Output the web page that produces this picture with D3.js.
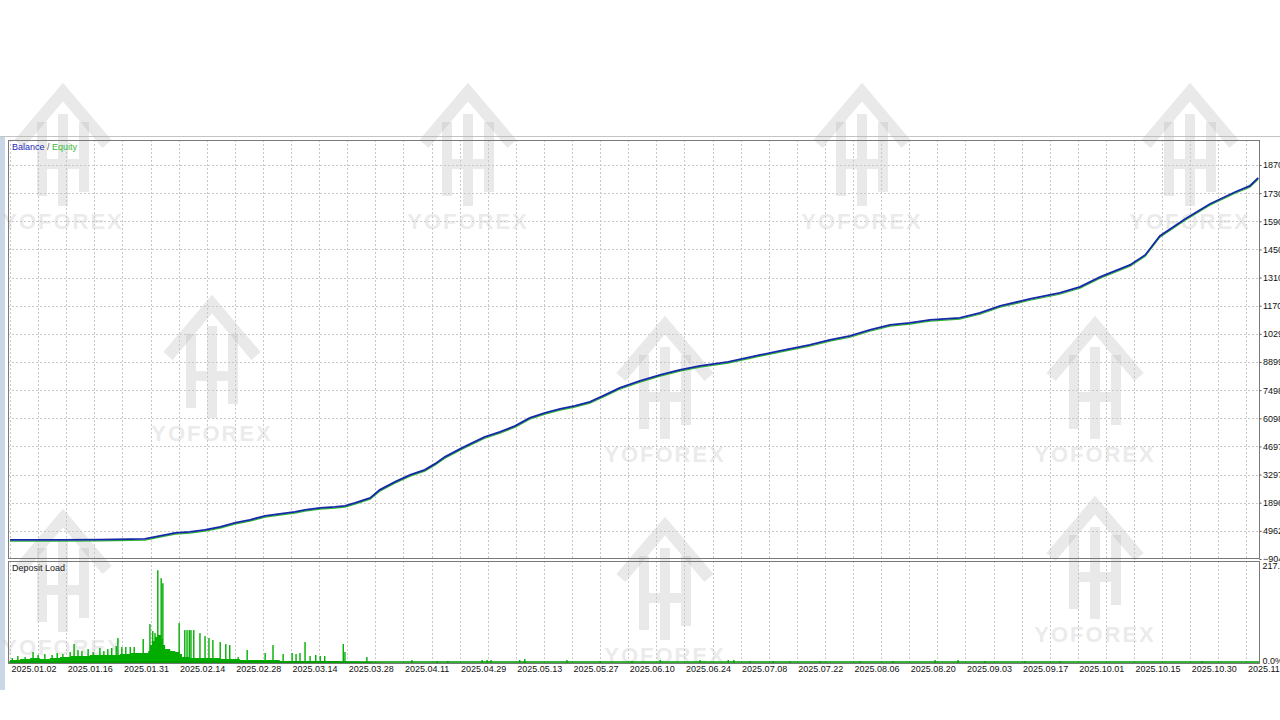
<!DOCTYPE html>
<html><head><meta charset="utf-8">
<script src="https://cdn.jsdelivr.net/npm/d3@7"></script>
<style>html,body{margin:0;padding:0;background:#fff;overflow:hidden}svg{display:block}</style>
</head><body>
<svg id="c" width="1280" height="720"></svg>
<script>
// ---- data ----
const xLabels = ["2025.01.02","2025.01.16","2025.01.31","2025.02.14","2025.02.28","2025.03.14","2025.03.28","2025.04.11","2025.04.29","2025.05.13","2025.05.27","2025.06.10","2025.06.24","2025.07.08","2025.07.22","2025.08.06","2025.08.20","2025.09.03","2025.09.17","2025.10.01","2025.10.15","2025.10.30","2025.11.13"];
const yTicks = [-9043, 4962, 18967, 32972, 46977, 60982, 74987, 88992, 102997, 117002, 131007, 145012, 159017, 173022, 187027];
const loadTicks = [0, 217.59];
// balance: [position in axis-label units, value]
const balance = [[0,484],[0.89,484],[1.60,600],[2.40,982],[2.67,2474],[2.94,3967],[3.20,4465],[3.47,5460],[3.74,6952],[4.00,8942],[4.27,10435],[4.54,12425],[4.80,13420],[5.07,14415],[5.25,15410],[5.52,16405],[5.78,16902],[5.96,17400],[6.14,18892],[6.41,21380],[6.58,25360],[6.85,29340],[7.12,32822],[7.38,35310],[7.56,38295],[7.74,41777],[8.01,45757],[8.19,48245],[8.45,51727],[8.72,54215],[8.99,57200],[9.25,61180],[9.52,63667],[9.79,65657],[10.05,67150],[10.32,69140],[10.59,72622],[10.85,76105],[11.21,79587],[11.57,82572],[11.92,85060],[12.28,87052],[12.78,89040],[13.35,92522],[13.70,94512],[14.23,97497],[14.59,99985],[14.95,101972],[15.30,104960],[15.66,107447],[16.01,108442],[16.37,109935],[16.90,110930],[17.26,113417],[17.62,116900],[18.15,120382],[18.68,123367],[19.04,126352],[19.40,131327],[19.93,137297],[20.20,142272],[20.46,151725],[20.91,160182],[21.35,167645],[21.80,173615],[22.06,176600],[22.21,180582]];
// deposit load base level: [position, percent]
const loadBase = [[0,6.5],[0.18,8.7],[0.36,10.9],[0.53,8.7],[0.71,10.9],[0.89,13.0],[1.07,15.2],[1.25,15.2],[1.42,17.4],[1.60,17.4],[1.78,17.4],[1.96,19.5],[2.14,21.7],[2.31,21.7],[2.46,26.0],[2.49,39.1],[2.53,47.7],[2.58,56.4],[2.63,60.8],[2.69,52.1],[2.72,39.1],[2.76,30.4],[2.85,26.0],[2.94,23.9],[3.02,19.5],[3.06,13.0],[3.20,10.9],[3.38,10.9],[3.56,10.9],[3.74,8.7],[3.91,8.7],[4.09,6.5],[4.45,6.5],[4.80,4.3],[5.16,4.3],[5.52,4.3],[5.87,3.3],[6.23,2.2],[6.44,1.1],[6.58,0.8],[22.21,0.8]];
// deposit load peaks: [position, percent]
const loadPeaks = [[0.04,10.9],[0.14,15.2],[0.27,13.0],[0.41,23.9],[0.50,17.4],[0.62,19.5],[0.75,17.4],[0.84,21.7],[0.94,19.5],[1.07,23.9],[1.14,41.2],[1.21,28.2],[1.28,26.0],[1.39,30.4],[1.48,23.9],[1.60,32.6],[1.67,26.0],[1.74,30.4],[1.81,32.6],[1.89,36.9],[1.92,54.3],[1.99,34.7],[2.06,34.7],[2.14,34.7],[2.21,34.7],[2.37,52.1],[2.49,84.6],[2.54,69.4],[2.58,65.1],[2.63,201.8],[2.69,184.5],[2.72,173.6],[3.01,86.8],[3.11,71.6],[3.15,71.6],[3.19,71.6],[3.22,71.6],[3.27,71.6],[3.38,65.1],[3.47,58.6],[3.54,54.3],[3.61,49.9],[3.74,45.6],[3.84,41.2],[3.91,39.1],[4.06,13.0],[4.22,28.2],[4.54,21.7],[4.68,39.1],[4.86,19.5],[5.02,21.7],[5.09,19.5],[5.16,21.7],[5.25,45.6],[5.34,15.2],[5.44,17.4],[5.52,15.2],[5.60,15.2],[5.93,41.2],[5.96,23.9],[6.35,13.0],[7.15,6.5],[7.60,4.3],[7.79,4.3],[8.40,6.5],[8.49,6.5],[8.56,6.5],[9.07,6.5],[9.16,8.7],[9.91,6.5],[10.50,4.3],[11.07,4.3],[11.57,6.5],[12.28,6.5],[12.78,6.5],[12.88,6.5],[13.17,4.3],[13.58,4.3],[13.88,4.3],[14.41,4.3],[15.12,4.3],[15.71,4.3],[16.46,6.5],[16.87,6.5],[17.35,4.3],[18.06,4.3],[18.68,4.3],[21.21,4.3]];
// watermark placements: [center x, top y]
const marks = [[63,88],[468,88],[862,88],[1190,88],[212,300],[665,321],[1095,321],[63,514],[665,522],[1095,501]];

// ---- layout ----
const L = 8, R = 1260, mainTop = 140, mainBot = 558, subTop = 561, subBot = 663;
const svg = d3.select("#c");
const FONT = "Liberation Sans, Arial, sans-serif";

const x = d3.scaleLinear().domain([0, 22]).range([10, 1246.4]);
const y = d3.scaleLinear().domain([-9043, 187027]).range([559, 165]);
const yl = d3.scaleLinear().domain([0, 217.59]).range([663, 563]);

// frame pieces
svg.append("rect").attr("x",0).attr("y",0).attr("width",1280).attr("height",720).attr("fill","#fff");
svg.append("line").attr("x1",0).attr("x2",1280).attr("y1",136.5).attr("y2",136.5).attr("stroke","#c4c4c4");
svg.append("rect").attr("x",0).attr("y",137).attr("width",5).attr("height",553).attr("fill","#c9d7e6");

// watermarks
const wm = svg.append("g").attr("fill","none");
marks.forEach(([cx, top]) => {
  const g = wm.append("g").attr("transform", `translate(${cx},${top})`);
  const c = "rgba(175,175,175,0.27)";
  g.append("path").attr("d","M-44,56 L0,4 L44,56").attr("stroke",c).attr("stroke-width",12).attr("stroke-linejoin","miter");
  g.append("path").attr("d","M-21,34 L-21,108 M21,34 L21,104 M-21,76 L21,76 M0,26 L0,118").attr("stroke",c).attr("stroke-width",10);
  g.append("text").attr("x",0).attr("y",141).attr("text-anchor","middle").attr("font-family",FONT).attr("font-weight","bold")
    .attr("font-size",22).attr("letter-spacing",2).attr("fill","rgba(175,175,175,0.27)").text("YOFOREX");
});

// grid
const grid = svg.append("g").attr("stroke","#c8c8c8").attr("stroke-dasharray","2,2").attr("stroke-width",1);
d3.range(0, 22.01, 0.5).forEach(v => {
  const xx = Math.round(x(v)) + 0.5;
  grid.append("line").attr("x1",xx).attr("x2",xx).attr("y1",mainTop).attr("y2",mainBot);
  grid.append("line").attr("x1",xx).attr("x2",xx).attr("y1",subTop).attr("y2",subBot);
});
yTicks.slice(1).forEach(v => {
  const yy = Math.round(y(v)) + 0.5;
  grid.append("line").attr("x1",L).attr("x2",R).attr("y1",yy).attr("y2",yy);
});

// clip
svg.append("clipPath").attr("id","cm").append("rect").attr("x",L).attr("y",mainTop).attr("width",R-L).attr("height",mainBot-mainTop);
svg.append("clipPath").attr("id","cs").append("rect").attr("x",L).attr("y",subTop).attr("width",R-L).attr("height",subBot-subTop);

// balance / equity
const line = d3.line().x(d => x(d[0])).y(d => y(d[1]));
const lg = svg.append("g").attr("clip-path","url(#cm)");
lg.append("path").datum(balance).attr("d",line).attr("fill","none").attr("stroke","#2eb82e").attr("stroke-width",1.2).attr("transform","translate(0,1.3)");
lg.append("path").datum(balance).attr("d",line).attr("fill","none").attr("stroke","#1428a8").attr("stroke-width",1.8);

// deposit load
const sg = svg.append("g").attr("clip-path","url(#cs)");
const area = d3.area().x(d => x(d[0])).y0(yl(0)).y1(d => yl(d[1])).curve(d3.curveStepAfter);
sg.append("path").datum(loadBase).attr("d",area).attr("fill","#00ad00");
sg.selectAll("rect.pk").data(loadPeaks).join("rect").attr("class","pk")
  .attr("x", d => x(d[0]) - 0.7).attr("width",1.4)
  .attr("y", d => yl(d[1])).attr("height", d => yl(0) - yl(d[1])).attr("fill","#00ad00");
sg.append("line").attr("x1",L).attr("x2",R).attr("y1",yl(0)-1).attr("y2",yl(0)-1).attr("stroke","#009a00").attr("stroke-width",1.5);

// panel borders
svg.append("rect").attr("x",L+0.5).attr("y",mainTop+0.5).attr("width",R-L-1).attr("height",mainBot-mainTop).attr("fill","none").attr("stroke","#7a7a7a");
svg.append("rect").attr("x",L+0.5).attr("y",subTop+0.5).attr("width",R-L-1).attr("height",subBot-subTop).attr("fill","none").attr("stroke","#7a7a7a");

// axes
const ya = svg.append("g").attr("transform",`translate(${R-0.5},0)`)
  .call(d3.axisRight(y).tickValues(yTicks).tickSize(2).tickPadding(1.5).tickFormat(d3.format("d")));
const yla = svg.append("g").attr("transform",`translate(${R-0.5},0)`)
  .call(d3.axisRight(yl).tickValues(loadTicks).tickSize(0).tickPadding(3).tickFormat(d => d === 0 ? "0.0%" : d.toFixed(2) + "%"));
yla.selectAll(".tick text").attr("dy", d => d === 0 ? "0.1em" : "0.6em");
const xa = svg.append("g").attr("transform",`translate(0,${subBot})`)
  .call(d3.axisBottom(x).tickValues(d3.range(xLabels.length)).tickSize(0).tickPadding(3).tickFormat(i => xLabels[i]));
xa.selectAll(".tick text").attr("text-anchor","start").attr("dx",1);
[ya, yla, xa].forEach(a => {
  a.select(".domain").remove();
  a.selectAll("text").attr("font-family",FONT).attr("font-size",9).attr("fill","#111");
  a.selectAll(".tick line").attr("stroke","#555");
});

// legends
const t1 = svg.append("text").attr("x",12).attr("y",150).attr("font-family",FONT).attr("font-size",9);
t1.append("tspan").attr("fill","#2626b8").text("Balance");
t1.append("tspan").attr("fill","#555").text(" / ");
t1.append("tspan").attr("fill","#3cb83c").text("Equity");
svg.append("text").attr("x",12).attr("y",571).attr("font-family",FONT).attr("font-size",9).attr("fill","#222").text("Deposit Load");
</script>
</body></html>
